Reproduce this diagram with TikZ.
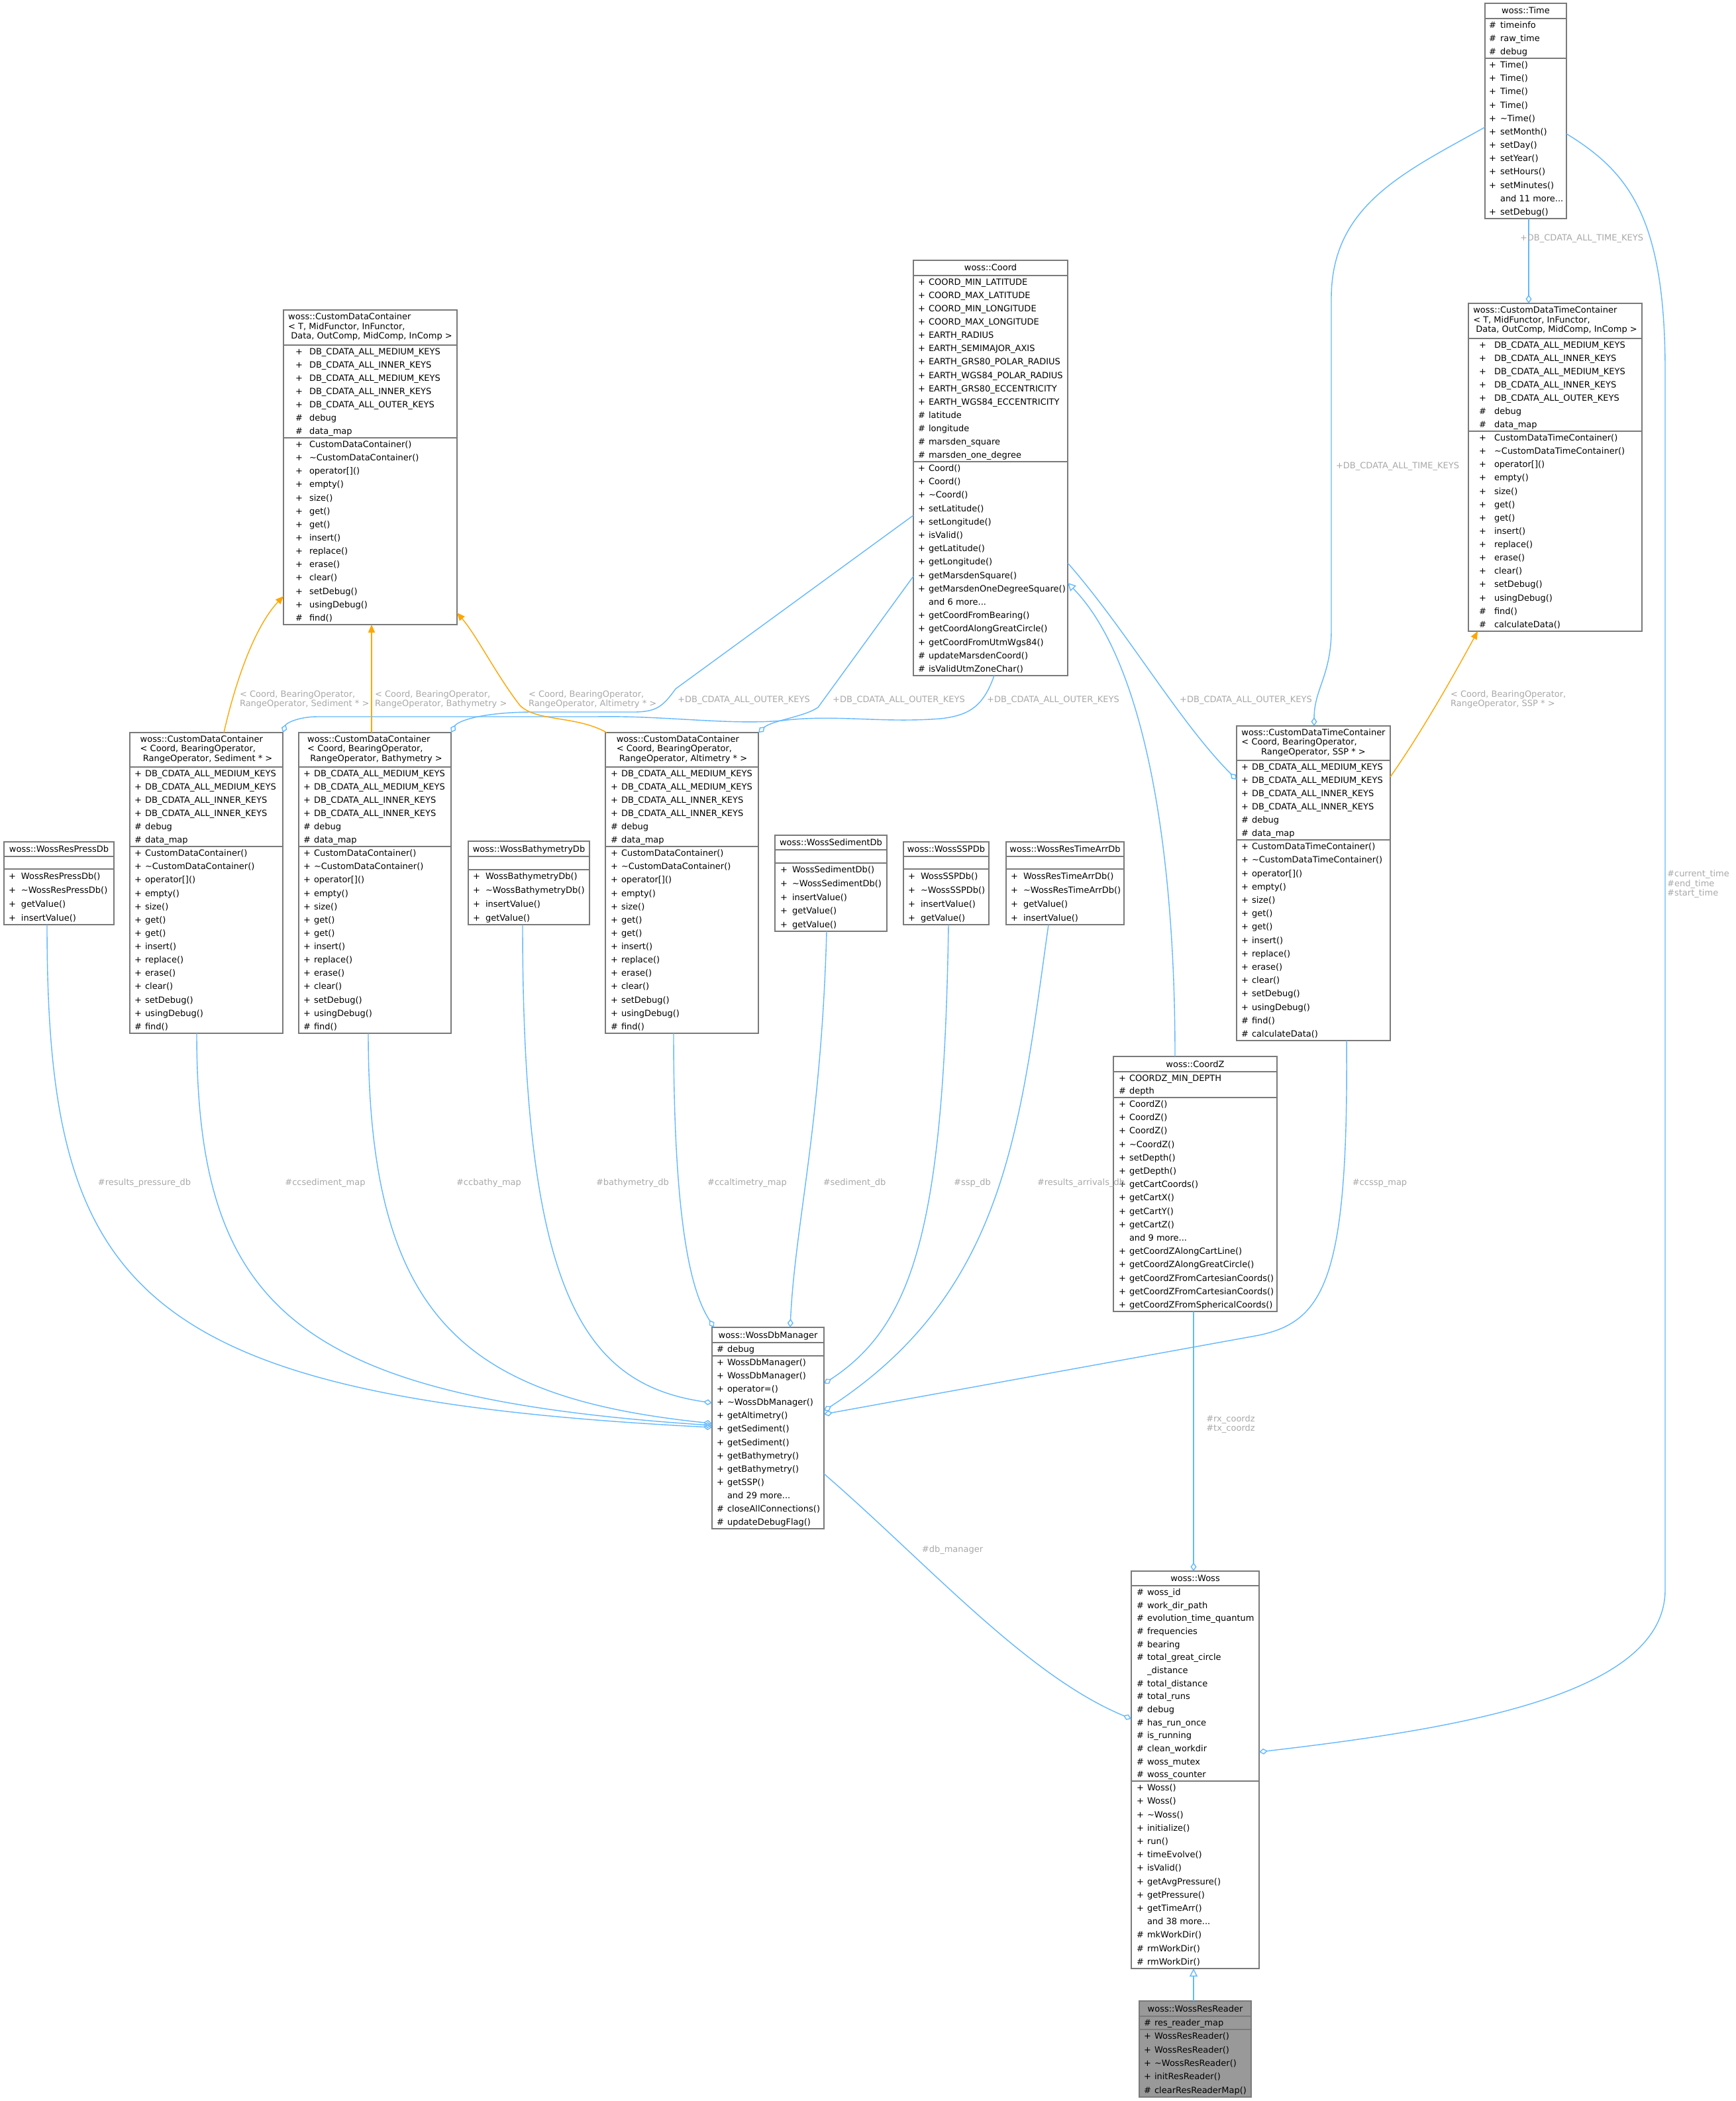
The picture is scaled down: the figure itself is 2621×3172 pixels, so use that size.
\documentclass[tikz,border=0pt]{standalone}
\usepackage{fontspec}
\setmainfont{DejaVu Sans}
\usetikzlibrary{arrows.meta,calc}
\definecolor{bord}{HTML}{7A7A7A}
\definecolor{eblue}{HTML}{63B8FF}
\definecolor{eorange}{HTML}{FFA500}
\definecolor{lblgray}{HTML}{A8A8A8}
\definecolor{rrfill}{HTML}{999999}
\tikzset{
  every node/.style={font=\fontsize{6.5}{7.25}\selectfont, inner sep=0pt, outer sep=0pt},
  clsframe/.style={draw=bord, line width=0.9pt, inner sep=0pt, outer sep=0pt},
  sepline/.style={draw=bord, line width=0.9pt},
  rowtxt/.style={anchor=base west},
  usage/.style={draw=eblue, line width=0.7pt, -{Diamond[open, length=6.5pt, width=4.5pt]}},
  inherit/.style={draw=eblue, line width=0.7pt, -{Triangle[open, length=6pt, width=6pt]}},
  templ/.style={draw=eorange, line width=0.7pt, -{Triangle[length=6pt, width=5pt]}},
  elabel/.style={text=lblgray},
}
% #1 fill, #2 name, #3 L, #4 T, #5 R, #6 B, #7 sep1, #8 sep2
\newcommand\clsbox[8][white]{%
  \node[clsframe, fill=#1, minimum width={(#5-#3)*0.5pt}, minimum height={(#6-#4)*0.5pt}] (#2) at ({(#3+#5)/2},{(#4+#6)/2}) {};
  \draw[sepline] ($(#2.north west)+(0,{#7-#4})$) -- ($(#2.north east)+(0,{#7-#4})$);
  \draw[sepline] ($(#2.north west)+(0,{#8-#4})$) -- ($(#2.north east)+(0,{#8-#4})$);
}
\newcommand\titleone[4]{\node[anchor=base] (#1-title) at (#2,{#3+4.5}) {#4};}
\newcommand\titlethree[6]{\node (#1-title) at (#2,#3) {\begin{tabular}{@{}l@{}}#4\\#5\\\multicolumn{1}{@{}c@{}}{#6}\end{tabular}};}
% #1 prefix, #2 sign x, #3 text x, #4 section top, #5 pitch, #6 list
\newcommand\secrows[6]{%
  \foreach \s/\t [count=\i] in {#6}{
    \node[rowtxt] (#1s\i) at (#2,{#4+(\i-0.5)*#5+4.5}) {\s};
    \node[rowtxt] (#1t\i) at (#3,{#4+(\i-0.5)*#5+4.5}) {\t};
  }}
\newcommand\tl{\textasciitilde}
\newcommand\ddd{.\kern0pt.\kern0pt.}
\begin{document}
\begin{tikzpicture}[x=0.5pt,y=-0.5pt]
\useasboundingbox (0,0) rectangle (2621,3172);

% ---------------- woss::Time
\clsbox{time}{2242}{5}{2365}{330}{28}{88}
\titleone{time}{2303.5}{16.5}{woss::Time}
\secrows{time-a}{2248}{2265}{28}{20}{\#/timeinfo,\#/raw\_time,\#/debug}
\secrows{time-m}{2248}{2265}{88}{20.17}{+/Time(),+/Time(),+/Time(),+/Time(),+/\tl Time(),+/setMonth(),+/setDay(),+/setYear(),+/setHours(),+/setMinutes(),{}/and 11 more\ddd,+/setDebug()}

% ---------------- CustomDataContainer generic
\clsbox{cdcg}{428}{468}{690}{943}{521}{661}
\titlethree{cdcg}{559}{494.5}{woss::CustomDataContainer}{< T, MidFunctor, InFunctor,}{\ Data, OutComp, MidComp, InComp >}
\secrows{cdcg-a}{446}{467}{521}{20}{+/DB\_CDATA\_ALL\_MEDIUM\_KEYS,+/DB\_CDATA\_ALL\_INNER\_KEYS,+/DB\_CDATA\_ALL\_MEDIUM\_KEYS,+/DB\_CDATA\_ALL\_INNER\_KEYS,+/DB\_CDATA\_ALL\_OUTER\_KEYS,\#/debug,\#/data\_map}
\secrows{cdcg-m}{446}{467}{661}{20.14}{+/CustomDataContainer(),+/\tl CustomDataContainer(),+/operator[](),+/empty(),+/size(),+/get(),+/get(),+/insert(),+/replace(),+/erase(),+/clear(),+/setDebug(),+/usingDebug(),\#/find()}

% ---------------- Coord
\clsbox{coord}{1379}{393}{1612}{1020}{416}{697}
\titleone{coord}{1495.5}{404.5}{woss::Coord}
\secrows{coord-a}{1386}{1402}{416}{20.07}{+/COORD\_MIN\_LATITUDE,+/COORD\_MAX\_LATITUDE,+/COORD\_MIN\_LONGITUDE,+/COORD\_MAX\_LONGITUDE,+/EARTH\_RADIUS,+/EARTH\_SEMIMAJOR\_AXIS,+/EARTH\_GRS80\_POLAR\_RADIUS,+/EARTH\_WGS84\_POLAR\_RADIUS,+/EARTH\_GRS80\_ECCENTRICITY,+/EARTH\_WGS84\_ECCENTRICITY,\#/latitude,\#/longitude,\#/marsden\_square,\#/marsden\_one\_degree}
\secrows{coord-m}{1386}{1402}{697}{20.19}{+/Coord(),+/Coord(),+/\tl Coord(),+/setLatitude(),+/setLongitude(),+/isValid(),+/getLatitude(),+/getLongitude(),+/getMarsdenSquare(),+/getMarsdenOneDegreeSquare(),{}/and 6 more\ddd,+/getCoordFromBearing(),+/getCoordAlongGreatCircle(),+/getCoordFromUtmWgs84(),\#/updateMarsdenCoord(),\#/isValidUtmZoneChar()}

% ---------------- CustomDataTimeContainer generic
\clsbox{cdtcg}{2217}{458}{2479}{953}{511}{651}
\titlethree{cdtcg}{2348}{484.5}{woss::CustomDataTimeContainer}{< T, MidFunctor, InFunctor,}{\ Data, OutComp, MidComp, InComp >}
\secrows{cdtcg-a}{2233}{2256}{511}{20}{+/DB\_CDATA\_ALL\_MEDIUM\_KEYS,+/DB\_CDATA\_ALL\_INNER\_KEYS,+/DB\_CDATA\_ALL\_MEDIUM\_KEYS,+/DB\_CDATA\_ALL\_INNER\_KEYS,+/DB\_CDATA\_ALL\_OUTER\_KEYS,\#/debug,\#/data\_map}
\secrows{cdtcg-m}{2233}{2256}{651}{20.13}{+/CustomDataTimeContainer(),+/\tl CustomDataTimeContainer(),+/operator[](),+/empty(),+/size(),+/get(),+/get(),+/insert(),+/replace(),+/erase(),+/clear(),+/setDebug(),+/usingDebug(),\#/find(),\#/calculateData()}

% ---------------- CDC Sediment
\clsbox{cdcsed}{196}{1106}{427}{1560}{1158}{1278}
\titlethree{cdcsed}{311.5}{1132}{woss::CustomDataContainer}{< Coord, BearingOperator,}{\ RangeOperator, Sediment * >}
\secrows{cdcsed-a}{203}{219}{1158}{20}{+/DB\_CDATA\_ALL\_MEDIUM\_KEYS,+/DB\_CDATA\_ALL\_MEDIUM\_KEYS,+/DB\_CDATA\_ALL\_INNER\_KEYS,+/DB\_CDATA\_ALL\_INNER\_KEYS,\#/debug,\#/data\_map}
\secrows{cdcsed-m}{203}{219}{1278}{20.14}{+/CustomDataContainer(),+/\tl CustomDataContainer(),+/operator[](),+/empty(),+/size(),+/get(),+/get(),+/insert(),+/replace(),+/erase(),+/clear(),+/setDebug(),+/usingDebug(),\#/find()}

% ---------------- CDC Bathymetry
\clsbox{cdcbat}{451}{1106}{681}{1560}{1158}{1278}
\titlethree{cdcbat}{566}{1132}{woss::CustomDataContainer}{< Coord, BearingOperator,}{\ RangeOperator, Bathymetry >}
\secrows{cdcbat-a}{458}{474}{1158}{20}{+/DB\_CDATA\_ALL\_MEDIUM\_KEYS,+/DB\_CDATA\_ALL\_MEDIUM\_KEYS,+/DB\_CDATA\_ALL\_INNER\_KEYS,+/DB\_CDATA\_ALL\_INNER\_KEYS,\#/debug,\#/data\_map}
\secrows{cdcbat-m}{458}{474}{1278}{20.14}{+/CustomDataContainer(),+/\tl CustomDataContainer(),+/operator[](),+/empty(),+/size(),+/get(),+/get(),+/insert(),+/replace(),+/erase(),+/clear(),+/setDebug(),+/usingDebug(),\#/find()}

% ---------------- CDC Altimetry
\clsbox{cdcalt}{914}{1106}{1145}{1560}{1158}{1278}
\titlethree{cdcalt}{1029.5}{1132}{woss::CustomDataContainer}{< Coord, BearingOperator,}{\ RangeOperator, Altimetry * >}
\secrows{cdcalt-a}{922}{938}{1158}{20}{+/DB\_CDATA\_ALL\_MEDIUM\_KEYS,+/DB\_CDATA\_ALL\_MEDIUM\_KEYS,+/DB\_CDATA\_ALL\_INNER\_KEYS,+/DB\_CDATA\_ALL\_INNER\_KEYS,\#/debug,\#/data\_map}
\secrows{cdcalt-m}{922}{938}{1278}{20.14}{+/CustomDataContainer(),+/\tl CustomDataContainer(),+/operator[](),+/empty(),+/size(),+/get(),+/get(),+/insert(),+/replace(),+/erase(),+/clear(),+/setDebug(),+/usingDebug(),\#/find()}

% ---------------- CDTC SSP
\clsbox{cdtcssp}{1867}{1096}{2099}{1571}{1148}{1268}
\titlethree{cdtcssp}{1983}{1122}{woss::CustomDataTimeContainer}{< Coord, BearingOperator,}{RangeOperator, SSP * >}
\secrows{cdtcssp-a}{1874}{1890}{1148}{20}{+/DB\_CDATA\_ALL\_MEDIUM\_KEYS,+/DB\_CDATA\_ALL\_MEDIUM\_KEYS,+/DB\_CDATA\_ALL\_INNER\_KEYS,+/DB\_CDATA\_ALL\_INNER\_KEYS,\#/debug,\#/data\_map}
\secrows{cdtcssp-m}{1874}{1890}{1268}{20.2}{+/CustomDataTimeContainer(),+/\tl CustomDataTimeContainer(),+/operator[](),+/empty(),+/size(),+/get(),+/get(),+/insert(),+/replace(),+/erase(),+/clear(),+/setDebug(),+/usingDebug(),\#/find(),\#/calculateData()}

% ---------------- small Db classes
\clsbox{resp}{6}{1271}{172}{1396}{1293}{1312}
\titleone{resp}{89}{1282}{woss::WossResPressDb}
\secrows{resp-m}{13}{32}{1312}{21}{+/WossResPressDb(),+/\tl WossResPressDb(),+/getValue(),+/insertValue()}

\clsbox{batdb}{707}{1270}{890}{1396}{1293}{1313}
\titleone{batdb}{798.5}{1281.5}{woss::WossBathymetryDb}
\secrows{batdb-m}{714}{733}{1313}{20.75}{+/WossBathymetryDb(),+/\tl WossBathymetryDb(),+/insertValue(),+/getValue()}

\clsbox{seddb}{1170}{1261}{1339}{1406}{1283}{1303}
\titleone{seddb}{1254.5}{1272}{woss::WossSedimentDb}
\secrows{seddb-m}{1178}{1196}{1303}{20.6}{+/WossSedimentDb(),+/\tl WossSedimentDb(),+/insertValue(),+/getValue(),+/getValue()}

\clsbox{sspdb}{1364}{1271}{1493}{1396}{1293}{1312}
\titleone{sspdb}{1428.5}{1282}{woss::WossSSPDb}
\secrows{sspdb-m}{1371}{1390}{1312}{21}{+/WossSSPDb(),+/\tl WossSSPDb(),+/insertValue(),+/getValue()}

\clsbox{tarrdb}{1519}{1271}{1697}{1396}{1293}{1312}
\titleone{tarrdb}{1608}{1282}{woss::WossResTimeArrDb}
\secrows{tarrdb-m}{1526}{1545}{1312}{21}{+/WossResTimeArrDb(),+/\tl WossResTimeArrDb(),+/getValue(),+/insertValue()}

% ---------------- CoordZ
\clsbox{coordz}{1681}{1595}{1928}{1980}{1618}{1657}
\titleone{coordz}{1804.5}{1606.5}{woss::CoordZ}
\secrows{coordz-a}{1689}{1705}{1618}{19.5}{+/COORDZ\_MIN\_DEPTH,\#/depth}
\secrows{coordz-m}{1689}{1705}{1657}{20.19}{+/CoordZ(),+/CoordZ(),+/CoordZ(),+/\tl CoordZ(),+/setDepth(),+/getDepth(),+/getCartCoords(),+/getCartX(),+/getCartY(),+/getCartZ(),{}/and 9 more\ddd,+/getCoordZAlongCartLine(),+/getCoordZAlongGreatCircle(),+/getCoordZFromCartesianCoords(),+/getCoordZFromCartesianCoords(),+/getCoordZFromSphericalCoords()}

% ---------------- WossDbManager
\clsbox{dbm}{1075}{2004}{1244}{2308}{2027}{2047}
\titleone{dbm}{1159.5}{2015.5}{woss::WossDbManager}
\secrows{dbm-a}{1082}{1098}{2027}{20}{\#/debug}
\secrows{dbm-m}{1082}{1098}{2047}{20.08}{+/WossDbManager(),+/WossDbManager(),+/operator=(),+/\tl WossDbManager(),+/getAltimetry(),+/getSediment(),+/getSediment(),+/getBathymetry(),+/getBathymetry(),+/getSSP(),{}/and 29 more\ddd,\#/closeAllConnections(),\#/updateDebugFlag()}

% ---------------- Woss
\clsbox{woss}{1708}{2372}{1901}{2972}{2394}{2689}
\titleone{woss}{1804.5}{2383}{woss::Woss}
\secrows{woss-a}{1716}{1732}{2394}{19.67}{\#/woss\_id,\#/work\_dir\_path,\#/evolution\_time\_quantum,\#/frequencies,\#/bearing,\#/total\_great\_circle,{}/\_distance,\#/total\_distance,\#/total\_runs,\#/debug,\#/has\_run\_once,\#/is\_running,\#/clean\_workdir,\#/woss\_mutex,\#/woss\_counter}
\secrows{woss-m}{1716}{1732}{2689}{20.21}{+/Woss(),+/Woss(),+/\tl Woss(),+/initialize(),+/run(),+/timeEvolve(),+/isValid(),+/getAvgPressure(),+/getPressure(),+/getTimeArr(),{}/and 38 more\ddd,\#/mkWorkDir(),\#/rmWorkDir(),\#/rmWorkDir()}

% ---------------- WossResReader
\clsbox[rrfill]{rr}{1720}{3021}{1889}{3166}{3044}{3064}
\titleone{rr}{1804.5}{3032.5}{woss::WossResReader}
\secrows{rr-a}{1727}{1743}{3044}{20}{\#/res\_reader\_map}
\secrows{rr-m}{1727}{1743}{3064}{20.4}{+/WossResReader(),+/WossResReader(),+/\tl WossResReader(),+/initResReader(),\#/clearResReaderMap()}

% ================= edges: usage
\draw[usage] ($(resp.south west)+(65,0)$) .. controls (71,1950) and (200,2110) .. ($(dbm.north west)+(0,151)$);
\draw[usage] ($(cdcsed.south west)+(101,0)$) .. controls (297,1980) and (450,2110) .. ($(dbm.north west)+(0,148)$);
\draw[usage] ($(cdcbat.south west)+(105,0)$) .. controls (556,1990) and (700,2110) .. ($(dbm.north west)+(0,145)$);
\draw[usage] ($(batdb.south west)+(82,0)$) .. controls (789,1950) and (880,2090) .. ($(dbm.north west)+(0,114)$);
\draw[usage] ($(cdcalt.south west)+(103,0)$) .. controls (1017,1880) and (1050,1960) .. ($(dbm.north west)+(3,0)$);
\draw[usage] ($(seddb.south west)+(78,0)$) .. controls (1240,1700) and (1200,1850) .. ($(dbm.north west)+(118,0)$);
\draw[usage] ($(sspdb.south west)+(68,0)$) .. controls (1425,1850) and (1380,2000) .. ($(dbm.north east)+(0,85)$);
\draw[usage] ($(tarrdb.south west)+(64,0)$) .. controls (1540,1700) and (1520,1950) .. ($(dbm.north east)+(0,126)$);
\draw[usage] ($(cdtcssp.south west)+(166,0)$) .. controls (2036,1930) and (2000,1995) .. (1900,2016) -- ($(dbm.north east)+(0,131)$);
\draw[usage] ($(dbm.north east)+(0,221)$) .. controls (1400,2360) and (1550,2530) .. ($(woss.north west)+(0,223)$);
\draw[usage] ($(coordz.south west)+(121,0)$) -- ($(woss.north west)+(94,0)$);
\draw[usage] ($(time.north east)+(0,197)$) .. controls (2460,260) and (2514,330) .. (2514,560) -- (2514,2400) .. controls (2514,2560) and (2200,2610) .. ($(woss.north east)+(0,273)$);
\draw[usage] ($(time.south west)+(66,0)$) -- ($(cdtcg.north west)+(91,0)$);
\draw[usage] ($(time.north west)+(0,187)$) .. controls (2120,260) and (2010,310) .. (2010,450) -- (2010,950) .. controls (2010,1020) and (1984,1040) .. ($(cdtcssp.north west)+(117,0)$);
\draw[usage] ($(coord.north east)+(0,457)$) .. controls (1700,950) and (1780,1090) .. ($(cdtcssp.north west)+(0,81)$);
% Coord -> Sediment (from Coord bottom, running low)
\draw[usage] ($(coord.south west)+(122,0)$) .. controls (1485,1065) and (1465,1080) .. (1420,1085) .. controls (1330,1092) and (1260,1078) .. (1180,1088) .. controls (1100,1095) and (1000,1080) .. (900,1082) -- (480,1082) .. controls (450,1082) and (432,1092) .. (cdcsed.north east);
% Coord -> Bathymetry (from Coord left, upper)
\draw[usage] ($(coord.north west)+(0,385)$) -- (1020,1040) .. controls (1000,1068) and (990,1074) .. (960,1075) -- (800,1075) .. controls (720,1076) and (690,1090) .. (cdcbat.north east);
% Coord -> Altimetry (from Coord left, lower)
\draw[usage] ($(coord.north west)+(0,477)$) -- (1235,1068) .. controls (1215,1082) and (1165,1088) .. (cdcalt.north east);
% inheritance
\draw[inherit] ($(coordz.north west)+(93,0)$) .. controls (1774,1250) and (1720,990) .. ($(coord.north east)+(0,487)$);
\draw[inherit] ($(rr.north west)+(82,0)$) -- ($(woss.south west)+(94,0)$);
% template instances
\draw[templ] ($(cdcsed.north west)+(142,0)$) .. controls (360,1010) and (390,940) .. ($(cdcg.south west)+(0,-43)$);
\draw[templ] ($(cdcbat.north west)+(110,0)$) -- ($(cdcg.south west)+(133,0)$);
\draw[templ] ($(cdcalt.north west)+(2,0)$) .. controls (870,1080) and (810,1090) .. (785,1065) .. controls (750,1020) and (720,960) .. ($(cdcg.south east)+(0,-18)$);
\draw[templ] ($(cdtcssp.north east)+(0,77)$) .. controls (2150,1100) and (2200,1010) .. ($(cdtcg.south west)+(14,0)$);

% ================= edge labels
\node[elabel] (l-resp) at (218,1786) {\#results\_pressure\_db};
\node[elabel] (l-ccsed) at (491,1786) {\#ccsediment\_map};
\node[elabel] (l-ccbat) at (738,1786) {\#ccbathy\_map};
\node[elabel] (l-batdb) at (955,1786) {\#bathymetry\_db};
\node[elabel] (l-ccalt) at (1128,1786) {\#ccaltimetry\_map};
\node[elabel] (l-seddb) at (1290,1786) {\#sediment\_db};
\node[elabel] (l-sspdb) at (1468,1786) {\#ssp\_db};
\node[elabel] (l-tarr) at (1632,1786) {\#results\_arrivals\_db};
\node[elabel] (l-ccssp) at (2083,1786) {\#ccssp\_map};
\node[elabel] (l-dbm) at (1438,2340) {\#db\_manager};
\node[elabel, align=left] (l-coordz) at (1858,2150) {\#rx\_coordz\\\#tx\_coordz};
\node[elabel, align=left] (l-time) at (2564,1335) {\#current\_time\\\#end\_time\\\#start\_time};
\node[elabel] (l-tk1) at (2388,360) {+DB\_CDATA\_ALL\_TIME\_KEYS};
\node[elabel] (l-tk2) at (2110,704) {+DB\_CDATA\_ALL\_TIME\_KEYS};
\node[elabel] (l-ok1) at (1123,1057) {+DB\_CDATA\_ALL\_OUTER\_KEYS};
\node[elabel] (l-ok2) at (1357,1057) {+DB\_CDATA\_ALL\_OUTER\_KEYS};
\node[elabel] (l-ok3) at (1590,1057) {+DB\_CDATA\_ALL\_OUTER\_KEYS};
\node[elabel] (l-ok4) at (1881,1057) {+DB\_CDATA\_ALL\_OUTER\_KEYS};
\node[elabel, align=left, anchor=west] (l-t1) at (362,1056) {< Coord, BearingOperator,\\RangeOperator, Sediment * >};
\node[elabel, align=left, anchor=west] (l-t2) at (566,1056) {< Coord, BearingOperator,\\RangeOperator, Bathymetry >};
\node[elabel, align=left, anchor=west] (l-t3) at (798,1056) {< Coord, BearingOperator,\\RangeOperator, Altimetry * >};
\node[elabel, align=left, anchor=west] (l-t4) at (2190,1056) {< Coord, BearingOperator,\\RangeOperator, SSP * >};
\end{tikzpicture}
\end{document}
